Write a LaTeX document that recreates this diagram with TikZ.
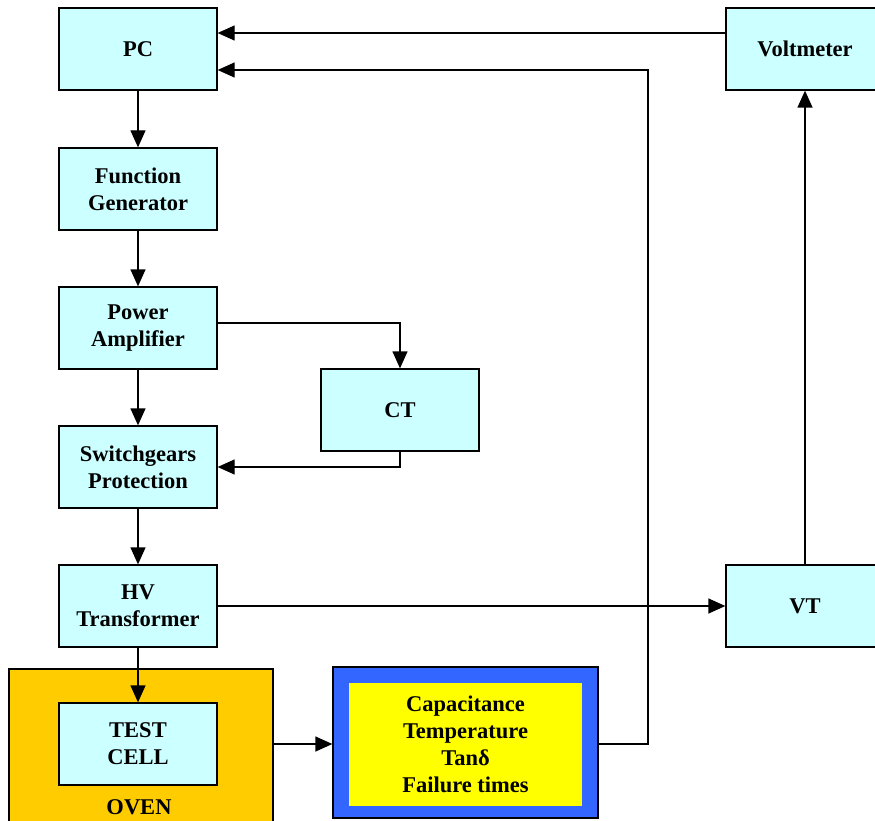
\documentclass[tikz,border=0pt]{standalone}
\usepackage{fontspec}
\setmainfont{Liberation Serif}
\usetikzlibrary{arrows.meta,calc}
\definecolor{boxcyan}{HTML}{CCFFFF}
\definecolor{ovenc}{HTML}{FFCC00}
\definecolor{bluec}{HTML}{3366FF}
\definecolor{yellowc}{HTML}{FFFF00}
\tikzset{
  blk/.style={draw, fill=boxcyan, line width=1.3pt, minimum width=158pt, minimum height=82pt,
    align=center, font=\fontsize{22.5}{27}\selectfont\bfseries, inner sep=0pt},
  conn/.style={line width=1.3pt, -{Triangle[length=17pt,width=15pt]}},
  plain/.style={line width=1.3pt}
}
\begin{document}
\begin{tikzpicture}[x=1pt,y=-1pt]
\useasboundingbox (0,0) rectangle (875,821);
\clip (0,0) rectangle (875,821);
% oven
\node[draw, fill=ovenc, line width=1.3pt, minimum width=264pt, minimum height=160pt, inner sep=0pt] (oven) at (141,749) {};
\node[font=\fontsize{22.5}{27}\selectfont\bfseries, inner sep=0pt] (ovenlbl) at (139,807) {OVEN};
% capacitance box
\node[draw, fill=bluec, line width=1.3pt, minimum width=265pt, minimum height=151pt, inner sep=0pt] (cap) at (465.5,742.5) {};
\node[fill=yellowc, minimum width=233pt, minimum height=123pt, inner sep=0pt, align=center,
  font=\fontsize{22.5}{27}\selectfont\bfseries] (capin) at (465.5,744.5) {Capacitance\\Temperature\\Tanδ\\Failure times};
% blocks
\node[blk] (pc) at (138,49) {PC};
\node[blk] (fg) at (138,189) {Function\\Generator};
\node[blk] (pa) at (138,328) {Power\\Amplifier};
\node[blk] (sw) at (138,467) {Switchgears\\Protection};
\node[blk] (hv) at (138,606) {HV\\Transformer};
\node[blk] (tc) at (138,744) {TEST\\CELL};
\node[blk] (ct) at (400,410) {CT};
\node[blk] (vm) at (805,49) {Voltmeter};
\node[blk] (vt) at (805,606) {VT};
% connectors
\draw[conn] (pc) -- (fg);
\draw[conn] (fg) -- (pa);
\draw[conn] (pa) -- (sw);
\draw[conn] (sw) -- (hv);
\draw[conn] (hv.south) -- (tc.north);
\draw[conn] ($(pa.east)+(0,-5)$) -| (ct.north);
\draw[conn] (ct.south) |- (sw.east);
\draw[conn] (hv.east) -- (vt.west);
\draw[conn] (vt.north) -- (vm.south);
\draw[conn] ($(vm.west)+(0,-16)$) -- ($(pc.east)+(0,-16)$);
\coordinate (bend) at (648,744);
\draw[conn] (cap.east |- tc) -- (bend) -- (bend |- 0,70) -- ($(pc.east)+(0,21)$);
\draw[conn] (oven.east |- tc) -- (cap.west |- tc);
\end{tikzpicture}
\end{document}
